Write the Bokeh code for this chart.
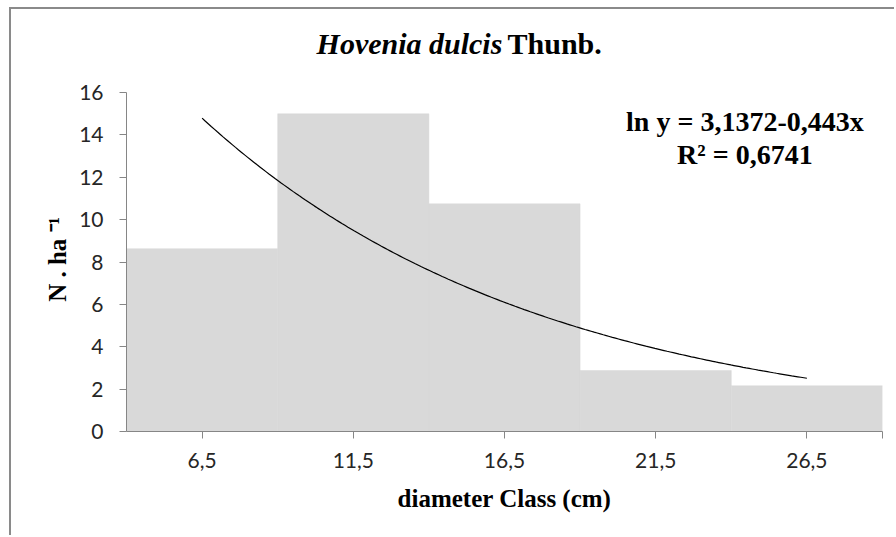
import numpy as np
from bokeh.plotting import figure
from bokeh.models import Label, FixedTicker, Range1d, ColumnDataSource
from bokeh.embed import file_html
from bokeh.resources import INLINE

# ---- data ----
class_mids = [6.5, 11.5, 16.5, 21.5, 26.5]
class_labels = ["6,5", "11,5", "16,5", "21,5", "26,5"]
density = [8.63, 15.0, 10.75, 2.88, 2.16]
y_ticks = [0, 2, 4, 6, 8, 10, 12, 14, 16]
# fitted model shown on the chart: ln y = a - b * x (x = class index 1..5)
fit_a = 3.1372
fit_b = 0.443
fit_r2 = "0,6741"
class_width = 5.0

W, H = 885, 528
p = figure(width=W, height=H, output_backend="svg", toolbar_location=None,
           x_range=Range1d(class_mids[0] - class_width / 2, class_mids[-1] + class_width / 2),
           y_range=Range1d(0, 19.5),
           min_border_left=115, min_border_right=14, min_border_top=9, min_border_bottom=106)
p.styles = {"border-left": "2px solid #8a8a8a", "border-top": "2px solid #8a8a8a",
            "margin-left": "9px", "margin-top": "7px"}
p.outline_line_color = None
p.xgrid.visible = False
p.ygrid.visible = False

src = ColumnDataSource(dict(x=class_mids, top=density))
p.vbar(x="x", top="top", width=class_width, source=src,
       fill_color="#d9d9d9", line_color="#d9d9d9", line_width=0.5)

# trend curve evaluated from the displayed equation
xd = np.linspace(class_mids[0], class_mids[-1], 200)
idx = (xd - class_mids[0]) / class_width + 1
p.line(xd, np.exp(fit_a - fit_b * idx), line_color="black", line_width=1.2)

axis_col = "#868686"
right_end = class_mids[-1] + class_width / 2
p.xaxis.ticker = FixedTicker(ticks=class_mids + [right_end])
ov = {m: l for m, l in zip(class_mids, class_labels)}
ov[right_end] = ""
p.xaxis.major_label_overrides = ov
p.yaxis.ticker = FixedTicker(ticks=y_ticks)
p.yaxis.bounds = (y_ticks[0], y_ticks[-1])
for ax in (p.xaxis[0], p.yaxis[0]):
    ax.axis_line_color = axis_col
    ax.major_tick_line_color = axis_col
    ax.minor_tick_line_color = None
    ax.major_tick_in = 0
    ax.major_tick_out = 7
    ax.major_label_text_font = "Lato"
    ax.major_label_text_font_size = "21px"
    ax.major_label_text_color = "#262626"
p.xaxis.major_label_standoff = 14
p.yaxis.major_label_standoff = 16

serif = "Liberation Serif"
p.xaxis.axis_label = "diameter Class (cm)"
# trailing no-break spaces shift the rotated label down to sit beside the 0-16 axis
p.yaxis.axis_label = "N . ha ⁻¹" + "\u00a0" * 11
for ax in (p.xaxis[0], p.yaxis[0]):
    ax.axis_label_text_font = serif
    ax.axis_label_text_font_style = "bold"
    ax.axis_label_text_font_size = "25px"
    ax.axis_label_text_color = "black"
p.xaxis.axis_label_standoff = 14

# title (inside the extended frame, above the y-axis bounds)
p.add_layout(Label(x=16.43, y=18.34, text="Hovenia dulcis", text_font=serif,
                   text_font_style="bold italic", text_font_size="30px",
                   text_align="right", text_baseline="alphabetic", text_color="black"))
p.add_layout(Label(x=16.6, y=18.34, text="Thunb.", text_font=serif,
                   text_font_style="bold", text_font_size="30px",
                   text_align="left", text_baseline="alphabetic", text_color="black"))
# equation
eq1 = "ln y = " + f"{fit_a:.4f}".replace(".", ",") + "-" + f"{fit_b:.3f}".replace(".", ",") + "x"
p.add_layout(Label(x=24.45, y=14.66, text=eq1, text_font=serif, text_font_style="bold",
                   text_font_size="28px", text_align="center", text_baseline="alphabetic",
                   text_color="black"))
p.add_layout(Label(x=24.45, y=13.08, text="R² = " + fit_r2, text_font=serif,
                   text_font_style="bold", text_font_size="28px", text_align="center",
                   text_baseline="alphabetic", text_color="black"))

open("out.html", "w").write(file_html(p, INLINE))
